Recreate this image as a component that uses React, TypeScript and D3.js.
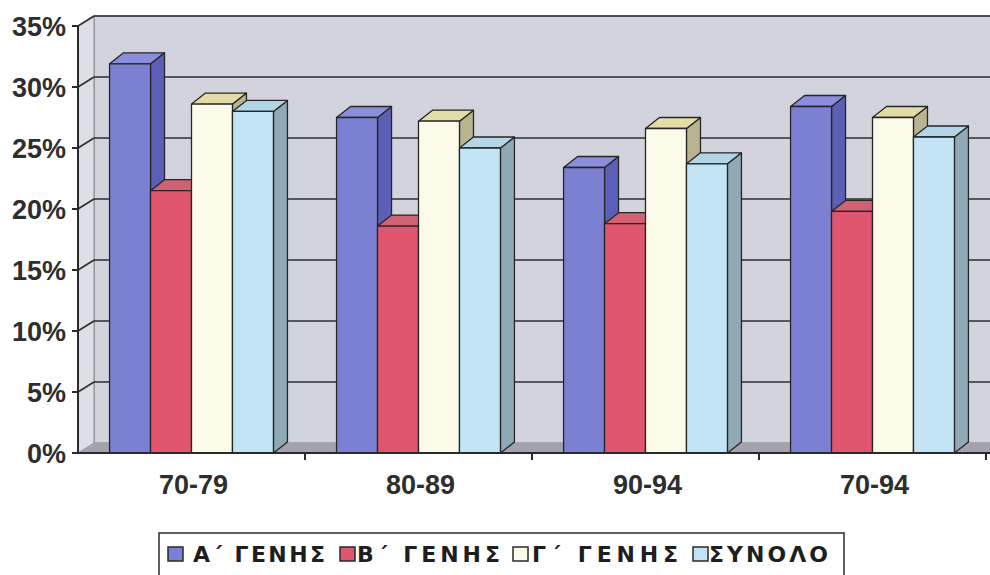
import React, { useEffect, useRef } from 'react'
import * as d3 from 'd3'

const categories = ['70-79', '80-89', '90-94', '70-94']
const seriesNames = ['Α΄ ΓΕΝΗΣ', 'Β΄ ΓΕΝΗΣ', 'Γ΄ ΓΕΝΗΣ', 'ΣΥΝΟΛΟ']
const genA = [0.319, 0.275, 0.234, 0.284]
const genB = [0.215, 0.186, 0.188, 0.198]
const genC = [0.286, 0.272, 0.266, 0.275]
const total = [0.280, 0.250, 0.237, 0.259]
const yTicks = [0, 0.05, 0.1, 0.15, 0.2, 0.25, 0.3, 0.35]

const seriesValues = [genA, genB, genC, total]

// front, top, side colours per series
const palette = [
  { front: '#7c80d2', top: '#8a8edb', side: '#5b60b6' },
  { front: '#e0566e', top: '#d06274', side: '#b84458' },
  { front: '#fcfbea', top: '#e2dca8', side: '#b8b490' },
  { front: '#c2e4f4', top: '#b2d6e6', side: '#8fa9b6' },
]

export default function App() {
  const svgRef = useRef<SVGSVGElement>(null)

  useEffect(() => {
    if (!svgRef.current) return
    const width = 990
    const height = 575
    const svg = d3.select(svgRef.current)
    svg.selectAll('*').remove()
    svg.attr('width', width).attr('height', height)

    const left = 78
    const right = 986
    const wallDx = 16
    const wallDy = -10
    const barDx = 14
    const barDy = -11
    const stroke = '#262626'
    const font = '"Liberation Sans", Arial, sans-serif'

    const y = d3.scaleLinear().domain([0, 0.35]).range([453, 26])
    const x0 = d3.scaleBand<string>().domain(categories).range([left, right]).padding(0)
    const x1 = d3.scaleBand<string>()
      .domain(seriesNames)
      .range([0, x0.bandwidth()])
      .paddingInner(0)
      .paddingOuter(0.77)

    const y0 = y(0)
    const yTop = y(0.35)

    svg.append('rect').attr('width', width).attr('height', height).attr('fill', '#ffffff')

    // back wall
    svg.append('rect')
      .attr('x', left + wallDx)
      .attr('y', yTop + wallDy)
      .attr('width', width - left - wallDx + 2)
      .attr('height', y0 - yTop)
      .attr('fill', '#d3d3de')
      .attr('stroke', '#8a8a94')
      .attr('stroke-width', 1.2)

    // side wall
    svg.append('polygon')
      .attr('points', [
        [left, yTop], [left + wallDx, yTop + wallDy],
        [left + wallDx, y0 + wallDy], [left, y0],
      ].map(p => p.join(',')).join(' '))
      .attr('fill', '#dedee6')
      .attr('stroke', '#8a8a94')
      .attr('stroke-width', 1)

    // floor
    svg.append('polygon')
      .attr('points', [
        [left, y0], [left + wallDx, y0 + wallDy],
        [width + 2, y0 + wallDy], [width + 2, y0],
      ].map(p => p.join(',')).join(' '))
      .attr('fill', '#a3a3ab')

    // gridlines on walls
    yTicks.filter(t => t > 0).forEach(t => {
      svg.append('line')
        .attr('x1', left + wallDx).attr('x2', width)
        .attr('y1', y(t) + wallDy).attr('y2', y(t) + wallDy)
        .attr('stroke', '#2e2e2e').attr('stroke-width', 1.6)
      svg.append('line')
        .attr('x1', left).attr('x2', left + wallDx)
        .attr('y1', y(t)).attr('y2', y(t) + wallDy)
        .attr('stroke', '#2e2e2e').attr('stroke-width', 1.6)
    })

    // bars
    categories.forEach((cat, ci) => {
      seriesNames.forEach((s, si) => {
        const v = seriesValues[si][ci]
        const bx = (x0(cat) ?? 0) + (x1(s) ?? 0)
        const bw = x1.bandwidth()
        const by = y(v)
        const col = palette[si]
        const g = svg.append('g')
          .attr('stroke', stroke)
          .attr('stroke-width', 1.3)
          .attr('stroke-linejoin', 'round')
        g.append('polygon')
          .attr('points', [
            [bx + bw, by], [bx + bw + barDx, by + barDy],
            [bx + bw + barDx, y0 + barDy], [bx + bw, y0],
          ].map(p => p.join(',')).join(' '))
          .attr('fill', col.side)
        g.append('polygon')
          .attr('points', [
            [bx, by], [bx + barDx, by + barDy],
            [bx + bw + barDx, by + barDy], [bx + bw, by],
          ].map(p => p.join(',')).join(' '))
          .attr('fill', col.top)
        g.append('rect')
          .attr('x', bx).attr('y', by)
          .attr('width', bw).attr('height', y0 - by)
          .attr('fill', col.front)
      })
    })

    // axes
    svg.append('line')
      .attr('x1', left).attr('x2', left)
      .attr('y1', yTop).attr('y2', y0 + 1)
      .attr('stroke', '#2a2a2a').attr('stroke-width', 2)
    svg.append('line')
      .attr('x1', left).attr('x2', width)
      .attr('y1', y0).attr('y2', y0)
      .attr('stroke', '#2a2a2a').attr('stroke-width', 2)

    yTicks.forEach(t => {
      svg.append('line')
        .attr('x1', left - 6).attr('x2', left)
        .attr('y1', y(t)).attr('y2', y(t))
        .attr('stroke', '#2a2a2a').attr('stroke-width', 2)
      svg.append('text')
        .attr('x', 66)
        .attr('y', y(t) + 10)
        .attr('text-anchor', 'end')
        .attr('font-family', font)
        .attr('font-weight', 'bold')
        .attr('font-size', 27)
        .attr('fill', '#2e2e2e')
        .text(d3.format('.0%')(t))
    })

    categories.forEach(cat => {
      const bx = x0(cat) ?? 0
      svg.append('line')
        .attr('x1', bx + x0.bandwidth()).attr('x2', bx + x0.bandwidth())
        .attr('y1', y0).attr('y2', y0 + 7)
        .attr('stroke', '#2a2a2a').attr('stroke-width', 2)
      svg.append('text')
        .attr('x', bx + x0.bandwidth() / 2 + 2)
        .attr('y', 494)
        .attr('text-anchor', 'middle')
        .attr('font-family', font)
        .attr('font-weight', 'bold')
        .attr('font-size', 27)
        .attr('fill', '#2e2e2e')
        .text(cat)
    })

    // legend
    svg.append('rect')
      .attr('x', 159).attr('y', 533)
      .attr('width', 685).attr('height', 50)
      .attr('fill', '#ffffff')
      .attr('stroke', '#2a2a2a').attr('stroke-width', 1.5)

    const legendX = [168, 340, 513, 693]
    const textX = [193, 357, 532, 709]
    const legendLen = [132, 143, 146, 119]
    seriesNames.forEach((s, i) => {
      svg.append('rect')
        .attr('x', legendX[i]).attr('y', 547)
        .attr('width', 15).attr('height', 14)
        .attr('fill', palette[i].front)
        .attr('stroke', '#2a2a2a').attr('stroke-width', 1.5)
      svg.append('text')
        .attr('x', textX[i])
        .attr('y', 562)
        .attr('font-family', '"DejaVu Sans", sans-serif')
        .attr('font-weight', 'bold')
        .attr('font-size', 22)
        .attr('textLength', legendLen[i])
        .attr('lengthAdjust', 'spacing')
        .attr('fill', '#1e1e1e')
        .text(s)
    })
  }, [])

  return (
    <svg ref={svgRef} style={{ position: 'absolute', left: 0, top: 0 }} />
  )
}
